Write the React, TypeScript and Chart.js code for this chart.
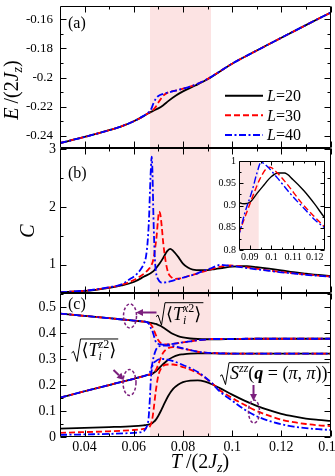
import { useEffect, useRef } from "react";
import { Chart, registerables } from "chart.js";

Chart.register(...registerables);

const W = 335;
const H = 476;
const SERIF = "'Liberation Serif', 'DejaVu Serif', serif";
const PURPLE = "#7b1f7d";
const PINK = "#fce3e3";

// ---------- shared temperature axis ----------
const T_RANGE = [0.03, 0.14];
const SHADE = [0.0666, 0.0914];
const X_MAJOR = [0.04, 0.06, 0.08, 0.1, 0.12, 0.14];
const X_MINOR = [0.05, 0.07, 0.09, 0.11, 0.13];
const X_LABELS = ["0.04", "0.06", "0.08", "0.1", "0.12", "0.14"];

const SERIES = ["20", "30", "40"];
const STYLE = [
  { color: "#000000", dash: [] as number[], order: 3 },
  { color: "#ff0000", dash: [6, 3], order: 2 },
  { color: "#0000ff", dash: [7, 2.5, 2, 2.5], order: 1 },
];

// ---------- panel (a): E/(2Jz) ----------
const E_RANGE = [-0.2484, -0.1509];
const E_MAJOR = [-0.24, -0.22, -0.2, -0.18, -0.16];
const E_LABELS = ["-0.24", "-0.22", "-0.2", "-0.18", "-0.16"];
const E_MINOR = [-0.23, -0.21, -0.19, -0.17];
const T_A = [0.03, 0.04, 0.05, 0.055, 0.06, 0.064, 0.066, 0.067, 0.068, 0.069, 0.07, 0.072, 0.074, 0.077, 0.08, 0.085, 0.09, 0.1, 0.11, 0.12, 0.13, 0.14];
const E_L20 = [-0.245, -0.2408, -0.2362, -0.2335, -0.23, -0.2265, -0.2245, -0.2236, -0.2228, -0.222, -0.2212, -0.219, -0.2162, -0.2125, -0.2095, -0.2055, -0.2012, -0.1905, -0.1815, -0.1727, -0.164, -0.1555];
const E_L30 = [-0.245, -0.2408, -0.2362, -0.2335, -0.23, -0.2265, -0.2243, -0.2233, -0.222, -0.22, -0.2172, -0.2125, -0.2102, -0.209, -0.2077, -0.205, -0.201, -0.1905, -0.1815, -0.1727, -0.164, -0.1555];
const E_L40 = [-0.245, -0.2408, -0.2362, -0.2335, -0.23, -0.2263, -0.224, -0.222, -0.2178, -0.2145, -0.2127, -0.2112, -0.2103, -0.209, -0.2077, -0.205, -0.201, -0.1905, -0.1815, -0.1727, -0.164, -0.1555];

// ---------- panel (b): C ----------
const C_RANGE = [0.51, 3.02];
const C_MAJOR = [1, 2, 3];
const C_LABELS = ["1", "2", "3"];
const C_MINOR = [1.5, 2.5];
const C_T20 = [0.03, 0.04, 0.05, 0.055, 0.06, 0.064, 0.068, 0.0705, 0.072, 0.0735, 0.0748, 0.076, 0.078, 0.08, 0.082, 0.084, 0.0875, 0.09, 0.093, 0.096, 0.1, 0.103, 0.106, 0.11, 0.115, 0.12, 0.125, 0.13, 0.135, 0.14];
const C_L20 = [0.525, 0.545, 0.6, 0.64, 0.7, 0.79, 0.89, 1.02, 1.12, 1.23, 1.275, 1.24, 1.14, 1.02, 0.95, 0.915, 0.904, 0.907, 0.925, 0.943, 0.965, 0.973, 0.973, 0.958, 0.933, 0.903, 0.87, 0.845, 0.822, 0.805];
const C_T30 = [0.03, 0.04, 0.05, 0.055, 0.06, 0.063, 0.0646, 0.066, 0.0673, 0.068, 0.0686, 0.0693, 0.0698, 0.0703, 0.0708, 0.0714, 0.072, 0.073, 0.074, 0.0755, 0.0767, 0.079, 0.082, 0.085, 0.0886, 0.0917, 0.0949, 0.0975, 0.0993, 0.1027, 0.1074, 0.1137, 0.12, 0.125, 0.13, 0.135, 0.14];
const C_L30 = [0.525, 0.548, 0.605, 0.65, 0.735, 0.81, 0.86, 0.92, 1.0, 1.1, 1.26, 1.5, 1.75, 1.92, 1.87, 1.65, 1.37, 1.05, 0.86, 0.775, 0.753, 0.762, 0.8, 0.838, 0.885, 0.925, 0.962, 0.982, 0.986, 0.973, 0.947, 0.907, 0.874, 0.85, 0.83, 0.812, 0.795];
const C_T40 = [0.03, 0.04, 0.05, 0.055, 0.058, 0.0605, 0.0625, 0.0639, 0.065, 0.0657, 0.0662, 0.0666, 0.067, 0.0673, 0.0676, 0.068, 0.0683, 0.0686, 0.069, 0.07, 0.0713, 0.073, 0.0747, 0.078, 0.082, 0.085, 0.0878, 0.091, 0.0933, 0.0952, 0.098, 0.1027, 0.109, 0.1153, 0.12, 0.125, 0.13, 0.135, 0.14];
const C_L40 = [0.525, 0.55, 0.61, 0.66, 0.74, 0.81, 0.9, 1.0, 1.15, 1.43, 1.8, 2.29, 2.7, 2.87, 2.6, 1.83, 1.4, 1.09, 0.88, 0.74, 0.69, 0.695, 0.71, 0.75, 0.8, 0.835, 0.885, 0.932, 0.973, 0.997, 0.988, 0.962, 0.925, 0.892, 0.868, 0.848, 0.825, 0.808, 0.79];

// ---------- inset of (b) ----------
const IN_T = [0.085, 0.1245];
const IN_C = [0.8, 1.0];
const IN_SHADE = [0.0666, 0.0941];
const IN_X_MAJOR = [0.09, 0.1, 0.11, 0.12];
const IN_X_LABELS = ["0.09", "0.1", "0.11", "0.12"];
const IN_X_MINOR = [0.095, 0.105, 0.115];
const IN_Y_MAJOR = [0.8, 0.85, 0.9, 0.95, 1.0];
const IN_Y_LABELS = ["0.8", "0.85", "0.9", "0.95", "1"];
const IN_Y_MINOR = [0.825, 0.875, 0.925, 0.975];

// ---------- panel (c): order parameters ----------
const OP_RANGE = [0, 0.554];
const OP_MAJOR = [0, 0.1, 0.2, 0.3, 0.4, 0.5];
const OP_LABELS = ["0", "0.1", "0.2", "0.3", "0.4", "0.5"];
const OP_MINOR = [0.05, 0.15, 0.25, 0.35, 0.45, 0.55];
const T_C = [0.03, 0.04, 0.05, 0.06, 0.064, 0.065, 0.0655, 0.066, 0.0665, 0.067, 0.0675, 0.068, 0.069, 0.07, 0.071, 0.072, 0.074, 0.076, 0.078, 0.08, 0.083, 0.086, 0.089, 0.092, 0.095, 0.1, 0.105, 0.11, 0.115, 0.12, 0.125, 0.13, 0.135, 0.14];
const TX_L20 = [0.475, 0.466, 0.457, 0.448, 0.444, 0.443, 0.442, 0.441, 0.44, 0.439, 0.438, 0.437, 0.435, 0.431, 0.427, 0.421, 0.408, 0.396, 0.388, 0.383, 0.379, 0.377, 0.376, 0.376, 0.376, 0.377, 0.377, 0.378, 0.378, 0.378, 0.378, 0.378, 0.378, 0.378];
const TX_L30 = [0.475, 0.466, 0.457, 0.448, 0.444, 0.443, 0.442, 0.44, 0.437, 0.432, 0.425, 0.415, 0.392, 0.372, 0.361, 0.357, 0.356, 0.358, 0.361, 0.364, 0.368, 0.372, 0.375, 0.377, 0.377, 0.377, 0.378, 0.378, 0.378, 0.378, 0.378, 0.378, 0.378, 0.378];
const TX_L40 = [0.475, 0.466, 0.457, 0.448, 0.445, 0.443, 0.441, 0.437, 0.43, 0.418, 0.41, 0.395, 0.365, 0.358, 0.356, 0.355, 0.356, 0.358, 0.361, 0.364, 0.368, 0.372, 0.375, 0.377, 0.377, 0.377, 0.378, 0.378, 0.378, 0.378, 0.378, 0.378, 0.378, 0.378];
const TZ_L20 = [0.151, 0.176, 0.2, 0.224, 0.234, 0.237, 0.238, 0.239, 0.24, 0.242, 0.243, 0.246, 0.253, 0.262, 0.272, 0.281, 0.297, 0.308, 0.315, 0.318, 0.321, 0.322, 0.322, 0.322, 0.321, 0.321, 0.321, 0.321, 0.321, 0.321, 0.321, 0.321, 0.321, 0.321];
const TZ_L30 = [0.151, 0.176, 0.2, 0.224, 0.234, 0.237, 0.238, 0.24, 0.241, 0.243, 0.245, 0.248, 0.258, 0.28, 0.305, 0.325, 0.342, 0.346, 0.344, 0.34, 0.334, 0.328, 0.325, 0.323, 0.322, 0.321, 0.321, 0.321, 0.321, 0.321, 0.321, 0.321, 0.321, 0.321];
const TZ_L40 = [0.151, 0.176, 0.2, 0.224, 0.234, 0.237, 0.239, 0.242, 0.248, 0.26, 0.28, 0.305, 0.335, 0.347, 0.351, 0.352, 0.352, 0.35, 0.346, 0.341, 0.334, 0.328, 0.325, 0.323, 0.322, 0.321, 0.321, 0.321, 0.321, 0.321, 0.321, 0.321, 0.321, 0.321];
const S_L20 = [0.032, 0.035, 0.038, 0.042, 0.045, 0.046, 0.047, 0.048, 0.049, 0.051, 0.053, 0.057, 0.067, 0.082, 0.1, 0.12, 0.158, 0.185, 0.201, 0.211, 0.217, 0.218, 0.213, 0.202, 0.188, 0.163, 0.14, 0.12, 0.103, 0.089, 0.079, 0.071, 0.066, 0.062];
const S_L30 = [0.016, 0.019, 0.022, 0.027, 0.031, 0.033, 0.034, 0.036, 0.04, 0.05, 0.068, 0.1, 0.18, 0.237, 0.262, 0.274, 0.279, 0.279, 0.275, 0.269, 0.259, 0.246, 0.228, 0.205, 0.18, 0.15, 0.124, 0.1, 0.082, 0.067, 0.057, 0.05, 0.045, 0.042];
const S_L40 = [0.008, 0.01, 0.012, 0.016, 0.022, 0.035, 0.045, 0.07, 0.14, 0.23, 0.27, 0.283, 0.292, 0.298, 0.3, 0.3, 0.297, 0.292, 0.285, 0.277, 0.265, 0.25, 0.23, 0.205, 0.175, 0.14, 0.106, 0.08, 0.062, 0.049, 0.04, 0.034, 0.03, 0.027];

// annotation anchors (data coordinates of panel c)
const ELLIPSES = [
  { t: 0.05847, v: 0.4656, rx: 6.5, ry: 12 },
  { t: 0.05826, v: 0.2097, rx: 6.5, ry: 13 },
  { t: 0.10889, v: 0.0981, rx: 5.5, ry: 11.5 },
];
const ARROWS = [
  { t1: 0.06924, v1: 0.479, t2: 0.06091, v2: 0.479 },
  { t1: 0.05176, v1: 0.2578, t2: 0.05603, v2: 0.2193 },
  { t1: 0.10869, v1: 0.2001, t2: 0.10869, v2: 0.1385 },
];
const LABEL_TX = { t: 0.06904, v: 0.5167 };
const LABEL_TZ = { t: 0.03468, v: 0.3771 };
const LABEL_S = { t: 0.09507, v: 0.2859 };

// ---------- helpers ----------
type Run = [string, number, string?, number?, boolean?];

function fontOf(size: number, style = "") {
  return `${style.includes("i") ? "italic " : ""}${style.includes("b") ? "bold " : ""}${size}px ${SERIF}`;
}
function runsWidth(ctx: CanvasRenderingContext2D, runs: Run[]) {
  let w = 0;
  for (const [t, s, st = "", , noAdv] of runs) {
    ctx.font = fontOf(s, st);
    if (!noAdv) w += ctx.measureText(t).width;
  }
  return w;
}
function drawRuns(ctx: CanvasRenderingContext2D, x: number, y: number, runs: Run[]) {
  ctx.textAlign = "left";
  ctx.textBaseline = "alphabetic";
  let cx = x;
  for (const [t, s, st = "", dy = 0, noAdv] of runs) {
    ctx.font = fontOf(s, st);
    ctx.fillText(t, cx, y + dy);
    if (!noAdv) cx += ctx.measureText(t).width;
  }
  return cx - x;
}
function sqrtLabel(ctx: CanvasRenderingContext2D, x: number, top: number, runs: Run[], size: number) {
  const w = runsWidth(ctx, runs);
  const bottom = top + size * 1.25;
  const h = bottom - top;
  ctx.save();
  ctx.strokeStyle = "#000";
  ctx.lineWidth = 1;
  ctx.setLineDash([]);
  ctx.beginPath();
  ctx.moveTo(x, top + h * 0.62);
  ctx.lineTo(x + 2, top + h * 0.55);
  ctx.lineTo(x + 5.5, bottom);
  ctx.lineTo(x + 9, top);
  ctx.lineTo(x + 12 + w, top);
  ctx.stroke();
  ctx.fillStyle = "#000";
  drawRuns(ctx, x + 10, top + size * 0.95, runs);
  ctx.restore();
}
function arrow(ctx: CanvasRenderingContext2D, x1: number, y1: number, x2: number, y2: number) {
  const ang = Math.atan2(y2 - y1, x2 - x1);
  const hl = 7, hw = 3.5;
  const bx = x2 - hl * Math.cos(ang), by = y2 - hl * Math.sin(ang);
  ctx.save();
  ctx.strokeStyle = PURPLE;
  ctx.fillStyle = PURPLE;
  ctx.lineWidth = 2;
  ctx.setLineDash([]);
  ctx.beginPath();
  ctx.moveTo(x1, y1);
  ctx.lineTo(bx, by);
  ctx.stroke();
  ctx.beginPath();
  ctx.moveTo(x2, y2);
  ctx.lineTo(bx - hw * Math.sin(ang), by + hw * Math.cos(ang));
  ctx.lineTo(bx + hw * Math.sin(ang), by - hw * Math.cos(ang));
  ctx.closePath();
  ctx.fill();
  ctx.restore();
}
function rotatedTitle(ctx: CanvasRenderingContext2D, cx: number, cy: number, runs: Run[], size: number) {
  const w = runsWidth(ctx, runs);
  ctx.save();
  ctx.translate(cx, cy);
  ctx.rotate(-Math.PI / 2);
  ctx.fillStyle = "#000";
  drawRuns(ctx, -w / 2, size * 0.33, runs);
  ctx.restore();
}

function pts(ts: number[], vs: number[]) {
  return ts.map((t, i) => ({ x: t, y: vs[i] }));
}
function ds(i: number, data: any[], width = 1.8) {
  return {
    label: "L=" + SERIES[i],
    data,
    borderColor: STYLE[i].color,
    borderDash: STYLE[i].dash,
    borderWidth: width,
    borderCapStyle: "butt",
    pointRadius: 0,
    fill: false,
    tension: 0,
    cubicInterpolationMode: "monotone",
    order: STYLE[i].order,
  };
}

interface PanelOpts {
  id: string;
  shade: number[];
  bg?: boolean;
  xMajor: number[];
  xMinor: number[];
  yMajor: number[];
  yMinor: number[];
  yLabels: string[];
  yFont: number;
  yGap: number;
  tMaj: number;
  tMin: number;
  xLabels?: string[];
  xFont?: number;
  xLabelDy?: number;
  extra?: (chart: any) => void;
}

function panelPlugin(o: PanelOpts) {
  return {
    id: o.id,
    beforeDatasetsDraw(chart: any) {
      const { ctx, chartArea: a, scales } = chart;
      ctx.save();
      if (o.bg) {
        ctx.fillStyle = "#ffffff";
        ctx.fillRect(a.left, a.top, a.right - a.left, a.bottom - a.top);
      }
      const x0 = Math.max(a.left, scales.x.getPixelForValue(o.shade[0]));
      const x1 = Math.min(a.right, scales.x.getPixelForValue(o.shade[1]));
      ctx.fillStyle = PINK;
      if (x1 > x0) ctx.fillRect(x0, a.top, x1 - x0, a.bottom - a.top);
      ctx.restore();
    },
    afterDatasetsDraw(chart: any) {
      const { ctx, chartArea: a, scales } = chart;
      const { x, y } = scales;
      const L = Math.round(a.left) + 0.5, R = Math.round(a.right) - 0.5;
      const T = Math.round(a.top) + 0.5, B = Math.round(a.bottom) - 0.5;
      ctx.save();
      ctx.strokeStyle = "#000";
      ctx.lineWidth = 1;
      ctx.setLineDash([]);
      ctx.beginPath();
      ctx.rect(L, T, R - L, B - T);
      const xt = (v: number, len: number) => {
        const px = Math.round(x.getPixelForValue(v)) + 0.5;
        ctx.moveTo(px, B); ctx.lineTo(px, B - len);
        ctx.moveTo(px, T); ctx.lineTo(px, T + len);
      };
      const yt = (v: number, len: number) => {
        const py = Math.round(y.getPixelForValue(v)) + 0.5;
        ctx.moveTo(L, py); ctx.lineTo(L + len, py);
        ctx.moveTo(R, py); ctx.lineTo(R - len, py);
      };
      o.xMajor.forEach((v) => xt(v, o.tMaj));
      o.xMinor.forEach((v) => xt(v, o.tMin));
      o.yMajor.forEach((v) => yt(v, o.tMaj));
      o.yMinor.forEach((v) => yt(v, o.tMin));
      ctx.stroke();
      ctx.fillStyle = "#000";
      ctx.font = fontOf(o.yFont);
      ctx.textAlign = "right";
      ctx.textBaseline = "middle";
      o.yMajor.forEach((v, i) => ctx.fillText(o.yLabels[i], a.left - o.yGap, y.getPixelForValue(v)));
      if (o.xLabels) {
        ctx.font = fontOf(o.xFont || 14);
        ctx.textAlign = "center";
        o.xMajor.forEach((v, i) => ctx.fillText(o.xLabels![i], x.getPixelForValue(v), a.bottom + (o.xLabelDy || 10)));
      }
      ctx.restore();
      if (o.extra) o.extra(chart);
    },
  };
}

function makeChart(canvas: HTMLCanvasElement, datasets: any[], xr: number[], yr: number[], pad: any, plugin: any) {
  return new Chart(canvas, {
    type: "line",
    data: { datasets },
    options: {
      animation: false,
      responsive: false,
      devicePixelRatio: 1,
      events: [],
      layout: { padding: pad },
      plugins: { legend: { display: false }, tooltip: { enabled: false } },
      scales: {
        x: { type: "linear", min: xr[0], max: xr[1], display: false },
        y: { type: "linear", min: yr[0], max: yr[1], display: false },
      },
    } as any,
    plugins: [plugin],
  } as any);
}

const LEFT = 60;
const RIGHT_PAD = 4.5;

export default function App() {
  const refA = useRef<HTMLCanvasElement>(null);
  const refB = useRef<HTMLCanvasElement>(null);
  const refC = useRef<HTMLCanvasElement>(null);
  const refI = useRef<HTMLCanvasElement>(null);

  useEffect(() => {
    const charts: Chart[] = [];

    // panel (a)
    charts.push(
      makeChart(
        refA.current!,
        [ds(0, pts(T_A, E_L20)), ds(1, pts(T_A, E_L30)), ds(2, pts(T_A, E_L40))],
        T_RANGE, E_RANGE,
        { left: LEFT, right: RIGHT_PAD, top: 6, bottom: H - 148 },
        panelPlugin({
          id: "pa", shade: SHADE,
          xMajor: X_MAJOR, xMinor: X_MINOR, yMajor: E_MAJOR, yMinor: E_MINOR, yLabels: E_LABELS,
          yFont: 13, yGap: 7, tMaj: 6, tMin: 3,
          extra: (chart) => {
            const { ctx, chartArea: a } = chart;
            ctx.save();
            ctx.fillStyle = "#000";
            drawRuns(ctx, a.left + 8, a.top + 22, [["(a)", 16]]);
            // legend
            for (let i = 0; i < 3; i++) {
              const yy = 95.7 + i * 19.6;
              ctx.strokeStyle = STYLE[i].color;
              ctx.lineWidth = 2;
              ctx.setLineDash(STYLE[i].dash);
              ctx.beginPath();
              ctx.moveTo(225, yy);
              ctx.lineTo(263, yy);
              ctx.stroke();
              ctx.fillStyle = "#000";
              drawRuns(ctx, 267, yy + 5.5, [["L", 16, "i"], ["=" + SERIES[i], 16]]);
            }
            ctx.restore();
            rotatedTitle(ctx, 11, 90, [["E", 20, "i"], ["\u2009/", 20], ["(", 20], ["2", 20], ["J", 20, "i"], ["z", 14, "i", 4], [")", 20]], 20);
          },
        })
      )
    );

    // panel (b)
    charts.push(
      makeChart(
        refB.current!,
        [ds(0, pts(C_T20, C_L20)), ds(1, pts(C_T30, C_L30)), ds(2, pts(C_T40, C_L40))],
        T_RANGE, C_RANGE,
        { left: LEFT, right: RIGHT_PAD, top: 148, bottom: H - 293 },
        panelPlugin({
          id: "pb", shade: SHADE,
          xMajor: X_MAJOR, xMinor: X_MINOR, yMajor: C_MAJOR, yMinor: C_MINOR, yLabels: C_LABELS,
          yFont: 14, yGap: 4, tMaj: 6, tMin: 3,
          extra: (chart) => {
            const { ctx, chartArea: a } = chart;
            ctx.save();
            ctx.fillStyle = "#000";
            drawRuns(ctx, a.left + 8, a.top + 30, [["(b)", 16]]);
            ctx.restore();
            rotatedTitle(ctx, 27, 231, [["C", 20, "i"]], 20);
          },
        })
      )
    );

    // panel (c)
    charts.push(
      makeChart(
        refC.current!,
        [
          ds(0, pts(T_C, TX_L20)), ds(1, pts(T_C, TX_L30)), ds(2, pts(T_C, TX_L40)),
          ds(0, pts(T_C, TZ_L20)), ds(1, pts(T_C, TZ_L30)), ds(2, pts(T_C, TZ_L40)),
          ds(0, pts(T_C, S_L20)), ds(1, pts(T_C, S_L30)), ds(2, pts(T_C, S_L40)),
        ],
        T_RANGE, OP_RANGE,
        { left: LEFT, right: RIGHT_PAD, top: 293, bottom: H - 437 },
        panelPlugin({
          id: "pc", shade: SHADE,
          xMajor: X_MAJOR, xMinor: X_MINOR, yMajor: OP_MAJOR, yMinor: OP_MINOR, yLabels: OP_LABELS,
          yFont: 14, yGap: 4, tMaj: 6, tMin: 3,
          xLabels: X_LABELS, xFont: 14, xLabelDy: 10.5,
          extra: (chart) => {
            const { ctx, chartArea: a, scales } = chart;
            const X = (t: number) => scales.x.getPixelForValue(t);
            const Y = (v: number) => scales.y.getPixelForValue(v);
            ctx.save();
            ctx.fillStyle = "#000";
            drawRuns(ctx, a.left + 8, a.top + 16, [["(c)", 16]]);
            ctx.restore();
            // ellipses
            ctx.save();
            ctx.strokeStyle = PURPLE;
            ctx.lineWidth = 1.5;
            ctx.setLineDash([3, 2]);
            for (const e of ELLIPSES) {
              ctx.beginPath();
              ctx.ellipse(X(e.t), Y(e.v), e.rx, e.ry, 0, 0, Math.PI * 2);
              ctx.stroke();
            }
            ctx.restore();
            for (const ar of ARROWS) arrow(ctx, X(ar.t1), Y(ar.v1), X(ar.t2), Y(ar.v2));
            // labels
            sqrtLabel(ctx, X(LABEL_TX.t), Y(LABEL_TX.v),
              [["\u27E8", 18], ["T", 18, "i"], ["i", 12, "i", 4, true], ["x", 12, "i", -8], ["2", 12, "", -8], ["\u27E9", 18]], 18);
            sqrtLabel(ctx, X(LABEL_TZ.t), Y(LABEL_TZ.v),
              [["\u27E8", 18], ["T", 18, "i"], ["i", 12, "i", 4, true], ["z", 12, "i", -8], ["2", 12, "", -8], ["\u27E9", 18]], 18);
            sqrtLabel(ctx, X(LABEL_S.t), Y(LABEL_S.v),
              [["S", 18, "i"], ["zz", 12, "i", -7], ["(", 18], ["q", 18, "bi"], [" = ", 18], ["(", 18], ["\u03C0", 18, "i"], [", ", 18], ["\u03C0", 18, "i"], [")", 18], [")", 18]], 17.5);
            // x title
            const runs: Run[] = [["T", 20, "i"], ["\u2009/", 20], ["(", 20], ["2", 20], ["J", 20, "i"], ["z", 14, "i", 4], [")", 20]];
            const w = runsWidth(ctx, runs);
            ctx.save();
            ctx.fillStyle = "#000";
            drawRuns(ctx, 200 - w / 2, 468, runs);
            ctx.restore();
          },
        })
      )
    );

    // inset
    charts.push(
      makeChart(
        refI.current!,
        [ds(0, pts(C_T20, C_L20), 1.4), ds(1, pts(C_T30, C_L30), 1.4), ds(2, pts(C_T40, C_L40), 1.4)],
        IN_T, IN_C,
        { left: 239, right: W - 324.5, top: 161, bottom: H - 250 },
        panelPlugin({
          id: "pi", shade: IN_SHADE, bg: true,
          xMajor: IN_X_MAJOR, xMinor: IN_X_MINOR, yMajor: IN_Y_MAJOR, yMinor: IN_Y_MINOR, yLabels: IN_Y_LABELS,
          yFont: 10, yGap: 3, tMaj: 4, tMin: 2,
          xLabels: IN_X_LABELS, xFont: 10, xLabelDy: 7,
        })
      )
    );

    return () => charts.forEach((c) => c.destroy());
  }, []);

  const cs: any = { position: "absolute", left: 0, top: 0, width: W, height: H };
  return (
    <div style={{ position: "absolute", left: 0, top: 0, width: W, height: H, background: "#fff", overflow: "hidden" }}>
      <canvas ref={refA} width={W} height={H} style={cs} />
      <canvas ref={refB} width={W} height={H} style={cs} />
      <canvas ref={refC} width={W} height={H} style={cs} />
      <canvas ref={refI} width={W} height={H} style={cs} />
    </div>
  );
}
